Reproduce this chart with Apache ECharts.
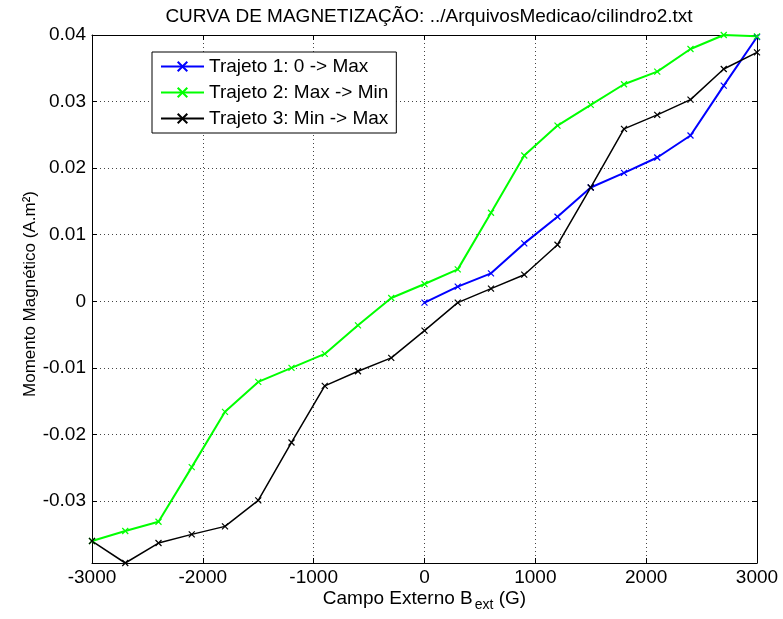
<!DOCTYPE html>
<html>
<head>
<meta charset="utf-8">
<script src="https://cdn.jsdelivr.net/npm/echarts@6/dist/echarts.min.js"></script>
<style>
  html, body { margin: 0; padding: 0; background: #fff; }
  #main { width: 783px; height: 619px; }
</style>
</head>
<body>
<div id="main"></div>
<script>
// campo externo (G)
var campoIda = [0, 300, 600, 900, 1200, 1500, 1800, 2100, 2400, 2700, 3000];
var campoVolta = [3000, 2700, 2400, 2100, 1800, 1500, 1200, 900, 600, 300, 0,
  -300, -600, -900, -1200, -1500, -1800, -2100, -2400, -2700, -3000];
var campoRetorno = [-3000, -2700, -2400, -2100, -1800, -1500, -1200, -900, -600, -300, 0,
  300, 600, 900, 1200, 1500, 1800, 2100, 2400, 2700, 3000];

// momento magnetico (A.m2)
var trajeto1 = [-0.0002, 0.0022, 0.0042, 0.0087, 0.0127, 0.0171, 0.0193, 0.0216, 0.0249, 0.0324, 0.0397];
var trajeto2 = [0.0398, 0.0400, 0.0379, 0.0345, 0.0326, 0.0295, 0.0264, 0.0219, 0.0133, 0.0048, 0.0026,
  0.0005, -0.0036, -0.0079, -0.0100, -0.0121, -0.0166, -0.0249, -0.0331, -0.0345, -0.0360];
var trajeto3 = [-0.0360, -0.0393, -0.0363, -0.0350, -0.0338, -0.0299, -0.0212, -0.0127, -0.0105, -0.0085, -0.0044,
  -0.0002, 0.0019, 0.0040, 0.0085, 0.0171, 0.0259, 0.0280, 0.0303, 0.0349, 0.0374];

var nomes = ['Trajeto 1: 0 -> Max', 'Trajeto 2: Max -> Min', 'Trajeto 3: Min -> Max'];

function pares(xs, ys) {
  return xs.map(function (x, i) { return [x, ys[i]]; });
}

var fonte = '"Liberation Sans", Arial, sans-serif';
var xis = 'path://M0,0L10,10M10,0L0,10';

function serie(nome, dados, cor, largura) {
  return {
    name: nome,
    type: 'line',
    data: dados,
    symbol: xis,
    symbolSize: 6,
    itemStyle: { color: cor, borderColor: cor, borderWidth: 1.2 },
    lineStyle: { color: cor, width: largura },
    animation: false
  };
}

var myChart = echarts.init(document.getElementById('main'));

var eixoBase = {
  axisLine: { show: true, onZero: false, lineStyle: { color: '#000', width: 1 } },
  axisTick: { show: true, inside: true, length: 5, lineStyle: { color: '#000' } }
};
var grade = { show: true, lineStyle: { color: '#444', type: [1, 3], width: 1 } };

var option = {
  backgroundColor: '#fff',
  textStyle: { fontFamily: fonte },
  title: {
    text: 'CURVA DE MAGNETIZAÇÃO: ../ArquivosMedicao/cilindro2.txt',
    left: 424,
    textAlign: 'center',
    top: 2,
    textStyle: { fontFamily: fonte, fontSize: 19, fontWeight: 'normal', color: '#000' }
  },
  legend: {
    orient: 'vertical',
    left: 152,
    top: 52,
    padding: [5, 8, 5, 8],
    itemGap: 7,
    itemWidth: 43,
    itemHeight: 12,
    backgroundColor: '#fff',
    borderColor: '#000',
    borderWidth: 1,
    borderRadius: 0,
    textStyle: { fontFamily: fonte, fontSize: 19, color: '#000' },
    data: nomes
  },
  grid: { left: 92, right: 26, top: 35, bottom: 56 },
  xAxis: [
    Object.assign({}, eixoBase, {
      type: 'value', min: -3000, max: 3000, interval: 1000, position: 'bottom',
      name: '{t|Campo Externo B}{s|ext}{t| (G)}',
      nameLocation: 'middle',
      nameMoveOverlap: false,
      nameGap: 23,
      nameTextStyle: {
        rich: {
          t: { fontFamily: fonte, fontSize: 19, color: '#000' },
          s: { fontFamily: fonte, fontSize: 14, color: '#000', padding: [12, 0, 0, 2] }
        }
      },
      axisLabel: {
        fontFamily: fonte, fontSize: 19, color: '#000', margin: 5,
        formatter: function (v) { return String(v); }
      },
      splitLine: grade
    }),
    Object.assign({}, eixoBase, {
      type: 'value', min: -3000, max: 3000, interval: 1000, position: 'top',
      axisLabel: { show: false }, splitLine: { show: false }
    })
  ],
  yAxis: [
    Object.assign({}, eixoBase, {
      type: 'value', min: -0.0393, max: 0.04, splitNumber: 8,
      minInterval: 0.01, maxInterval: 0.01, position: 'left',
      name: 'Momento Magnético (A.m²)',
      nameLocation: 'middle',
      nameMoveOverlap: false,
      nameGap: 53,
      nameTextStyle: { fontFamily: fonte, fontSize: 17, color: '#000', padding: [0, 0, 0, 10] },
      axisLabel: {
        fontFamily: fonte, fontSize: 19, color: '#000', margin: 6, showMinLabel: false,
        formatter: function (v) {
          var r = Math.round(v * 100) / 100;
          return r === 0 ? '0' : r.toFixed(2);
        }
      },
      splitLine: grade
    }),
    Object.assign({}, eixoBase, {
      type: 'value', min: -0.0393, max: 0.04, splitNumber: 8,
      minInterval: 0.01, maxInterval: 0.01, position: 'right',
      axisLabel: { show: false }, splitLine: { show: false }
    })
  ],
  series: [
    serie(nomes[0], pares(campoIda, trajeto1), '#0000ff', 2),
    serie(nomes[1], pares(campoVolta, trajeto2), '#00ff00', 2),
    serie(nomes[2], pares(campoRetorno, trajeto3), '#000000', 1.5)
  ]
};

myChart.setOption(option);
</script>
</body>
</html>
